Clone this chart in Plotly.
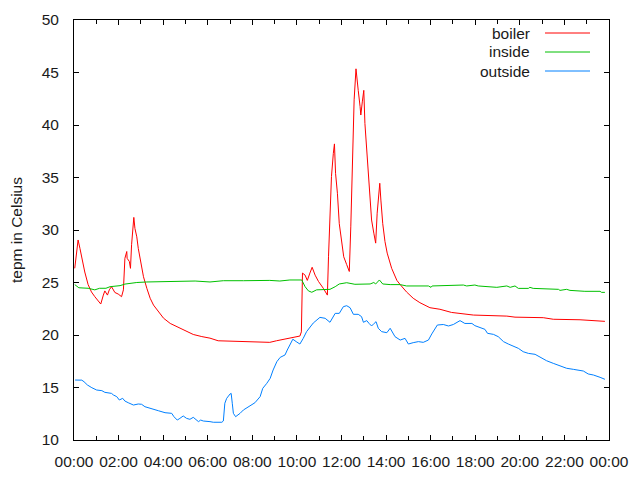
import plotly.graph_objects as go

# ---- data (time of day "HH:MM", temperature in Celsius) ----
boiler_times = ["00:02","00:07","00:11","00:16","00:20","00:29","00:38","00:47","00:56","01:05",
    "01:12","01:19","01:23","01:30","01:35","01:41","01:50","01:59","02:08","02:13",
    "02:15","02:17","02:22","02:23","02:29","02:32","02:35","02:38","02:41","02:44",
    "02:49","02:53","02:58","03:02","03:07","03:16","03:25","03:34","03:47","04:01",
    "04:19","04:37","04:59","05:21","05:44","06:06","06:28","07:36","07:58","08:47",
    "09:05","09:37","10:08","10:12","10:15","10:22","10:28","10:35","10:41","10:49",
    "10:58","11:11","11:22","11:25","11:29","11:33","11:38","11:41","11:44","11:49",
    "11:54","12:00","12:06","12:14","12:21","12:25","12:29","12:32","12:34","12:39",
    "12:43","12:45","12:50","12:52","12:56","13:00","13:03","13:08","13:12","13:17",
    "13:21","13:27","13:32","13:36","13:41","13:43","13:46","13:51","13:57","14:03",
    "14:15","14:29","14:38","14:55","15:13","15:31","15:58","16:25","16:56","17:37",
    "17:55","19:25","19:47","21:03","21:30","22:42","23:36","23:49"]
boiler_vals = [26.35,27.8,29.05,28.25,27.45,26.0,24.8,24.1,23.65,23.2,
    22.95,23.8,24.2,23.8,24.3,24.6,24.05,23.9,23.65,24.3,
    25.4,27.3,27.95,27.3,27.0,26.35,28.6,30.3,31.2,30.15,
    29.35,28.25,27.3,26.35,25.55,24.45,23.5,22.85,22.2,21.6,
    21.1,20.8,20.4,20.05,19.85,19.7,19.45,19.4,19.35,19.3,
    19.45,19.7,19.9,20.3,25.9,25.7,25.2,25.9,26.45,25.7,
    25.1,24.45,23.8,27.45,31.9,35.1,37.3,38.2,35.4,33.5,
    30.6,28.9,27.45,26.7,26.05,30.3,35.7,39.85,42.4,45.35,
    44.3,43.3,41.75,40.95,42.2,43.3,40.15,37.6,35.7,33.2,
    30.95,29.7,28.75,31.6,33.5,34.45,32.85,30.6,28.9,27.8,
    26.35,25.2,24.8,24.1,23.5,23.08,22.6,22.45,22.15,22.0,
    21.9,21.8,21.7,21.65,21.5,21.45,21.33,21.3]

inside_times = ["00:02","00:13","00:38","00:56","01:09","01:26","01:37","02:04","02:17","02:49",
    "03:16","04:19","05:26","06:06","06:42","07:36","08:12","08:47","09:14","09:41",
    "10:13","10:22","10:31","10:40","10:53","11:29","11:43","11:54","12:14","12:36",
    "13:17","13:27","13:32","13:42","13:51","14:11","14:38","14:55","15:54","16:01",
    "16:04","17:14","17:28","17:37","17:59","18:08","18:58","19:25","19:34","19:47",
    "19:56","20:23","20:27","20:36","21:17","21:44","21:48","22:06","22:15","22:55",
    "23:36","23:40","23:49"]
inside_vals = [24.8,24.5,24.45,24.3,24.45,24.45,24.6,24.7,24.85,25.0,
    25.05,25.1,25.14,25.05,25.17,25.17,25.2,25.2,25.14,25.24,
    25.24,24.6,24.2,24.07,24.3,24.35,24.6,24.86,24.98,24.83,
    24.86,25.0,24.86,25.24,24.86,24.8,24.8,24.67,24.67,24.54,
    24.67,24.7,24.76,24.67,24.76,24.67,24.54,24.67,24.54,24.67,
    24.44,24.44,24.54,24.44,24.35,24.35,24.25,24.35,24.25,24.16,
    24.16,24.06,24.06]

outside_times = ["00:03","00:21","00:27","00:36","00:48","01:01","01:15","01:23","01:41","01:46",
    "01:55","02:02","02:11","02:17","02:26","02:40","02:53","03:02","03:11","03:29",
    "03:47","04:05","04:23","04:29","04:38","04:45","04:54","05:03","05:12","05:21",
    "05:28","05:35","05:41","05:48","06:06","06:15","06:38","06:42","06:46","06:51",
    "07:00","07:03","07:06","07:09","07:15","07:22","07:27","07:36","07:54","08:07",
    "08:21","08:28","08:39","08:48","08:56","09:06","09:15","09:28","09:34","09:41",
    "09:49","09:58","10:08","10:17","10:26","10:44","11:02","11:16","11:29","11:43",
    "11:54","12:05","12:14","12:23","12:32","12:45","12:54","12:59","13:08","13:14",
    "13:21","13:28","13:33","13:39","13:48","14:02","14:11","14:24","14:38","14:51",
    "15:00","15:13","15:27","15:40","15:54","16:03","16:12","16:18","16:34","16:48",
    "17:01","17:14","17:19","17:32","17:51","17:59","18:13","18:26","18:33","18:49",
    "19:02","19:16","19:29","19:42","19:56","20:09","20:23","20:41","20:54","21:12",
    "21:30","21:48","22:06","22:24","22:51","23:04","23:18","23:36","23:49"]
outside_vals = [15.71,15.7,15.55,15.24,14.98,14.76,14.7,14.54,14.44,14.29,
    14.13,13.81,13.97,13.71,13.55,13.33,13.43,13.4,13.17,12.95,
    12.79,12.6,12.54,12.22,11.9,12.06,12.29,12.06,11.97,12.16,
    11.97,11.75,11.9,11.81,11.75,11.69,11.69,11.81,13.5,13.97,
    14.38,14.44,13.5,12.54,12.22,12.38,12.54,12.86,13.27,13.55,
    14.13,14.92,15.4,15.87,16.67,17.46,17.87,18.1,18.57,19.05,
    19.6,19.37,19.14,19.68,20.32,21.14,21.68,21.59,21.21,22.06,
    22.06,22.7,22.79,22.6,21.97,21.97,21.75,21.21,21.37,21.11,
    20.86,21.11,21.27,20.64,20.32,20.22,20.64,19.84,19.52,19.68,
    19.14,19.27,19.37,19.3,19.52,20.1,20.64,20.95,21.0,20.86,
    21.0,21.27,21.37,21.1,21.1,20.89,20.73,20.54,20.16,20.06,
    19.84,19.37,19.14,18.95,18.73,18.41,18.25,18.16,17.87,17.55,
    17.3,17.05,16.83,16.73,16.57,16.29,16.19,15.97,15.78]

tick_hours = [0, 2, 4, 6, 8, 10, 12, 14, 16, 18, 20, 22, 24]
tick_labels = ["00:00","02:00","04:00","06:00","08:00","10:00","12:00",
               "14:00","16:00","18:00","20:00","22:00","00:00"]

series_names = ["boiler", "inside", "outside"]
series_colors = ["#ff0000", "#00c000", "#0080ff"]


def to_hours(ts):
    out = []
    for s in ts:
        h, m = s.split(":")
        out.append(int(h) + int(m) / 60.0)
    return out


FONT = "Liberation Sans"
TXT = "#1a1a1a"
FS = 15.5

fig = go.Figure()
for name, times, vals, col in zip(series_names,
                                  [boiler_times, inside_times, outside_times],
                                  [boiler_vals, inside_vals, outside_vals],
                                  series_colors):
    fig.add_trace(go.Scatter(x=to_hours(times), y=vals, mode="lines", name=name,
                             line=dict(color=col, width=1), showlegend=False))

# gnuplot-style key: right-aligned text followed by a line sample
for i, (name, col) in enumerate(zip(series_names, series_colors)):
    ypos = 1 - (13 + 19 * i) / 420.0
    fig.add_annotation(x=(532 - 74) / 535.0, y=ypos, xref="paper", yref="paper",
                       text=name, showarrow=False, xanchor="right", yanchor="middle",
                       font=dict(family=FONT, size=FS, color=TXT))
    fig.add_shape(type="line", xref="paper", yref="paper",
                  x0=(545 - 74) / 535.0, x1=(590 - 74) / 535.0, y0=ypos, y1=ypos,
                  line=dict(color=col, width=1))

axis_common = dict(showline=True, linecolor="black", linewidth=1, mirror="ticks",
                   ticks="inside", tickcolor="black", showgrid=False, zeroline=False,
                   automargin=False,
                   tickfont=dict(family=FONT, size=FS, color=TXT))

fig.update_xaxes(range=[0, 24], tickmode="array", tickvals=tick_hours, ticktext=tick_labels,
                 ticklen=5, ticklabelstandoff=7,
                 minor=dict(dtick=1, tick0=0, ticks="inside", ticklen=4, tickcolor="black", showgrid=False),
                 **axis_common)
fig.update_yaxes(range=[10, 50], dtick=5, tick0=10, ticklen=5, ticklabelstandoff=11,
                 title=dict(text="tepm in Celsius", standoff=25,
                            font=dict(family=FONT, size=FS, color=TXT)),
                 **axis_common)

# the page body has an 8px default margin, so the figure is sized to fill the rest
fig.update_layout(width=632, height=472, autosize=False,
                  margin=dict(l=66, r=31, t=12, b=40, pad=0),
                  plot_bgcolor="white", paper_bgcolor="white")

fig.write_html("out.html")
